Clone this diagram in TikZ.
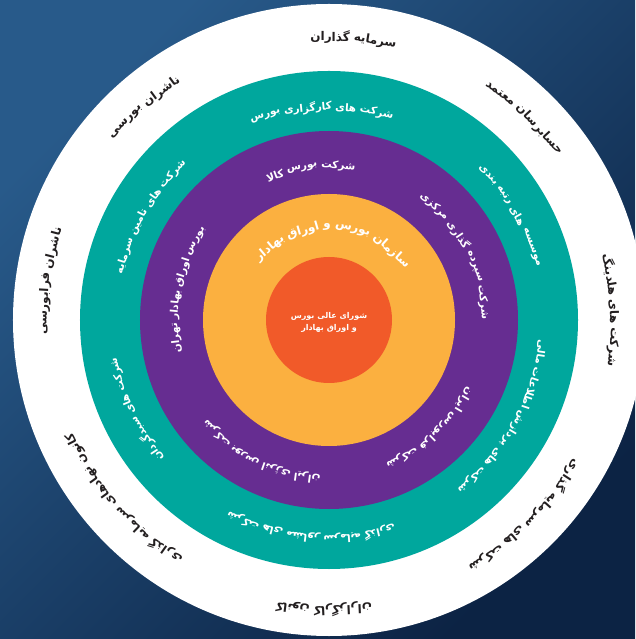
\documentclass[tikz,border=0pt]{standalone}
\usepackage{fontspec}
\newfontfamily\fa[Script=Arabic]{DejaVu Sans}
\TeXXeTstate=1

\definecolor{bgtop}{RGB}{40,90,138}
\definecolor{bgbot}{RGB}{12,35,68}
\definecolor{ringteal}{RGB}{0,167,157}
\definecolor{ringpurple}{RGB}{102,45,145}
\definecolor{ringyellow}{RGB}{251,176,64}
\definecolor{ringorange}{RGB}{241,90,41}
\definecolor{txtdark}{RGB}{35,31,32}

\newcommand{\outerfont}{\fa\bfseries\fontsize{12}{14}\selectfont\color{txtdark}}
\newcommand{\tealfont}{\fa\bfseries\fontsize{10.5}{12}\selectfont\color{white}}
\newcommand{\purplefont}{\fa\bfseries\fontsize{10.5}{12}\selectfont\color{white}}
\newcommand{\yellowfont}{\fa\bfseries\fontsize{12}{14}\selectfont\color{white}}

\newdimen\rtlen
\newdimen\rtpos
\newdimen\rtsp
\newdimen\rtw

% words of one label, set one by one round a circle, tops outward
\newcommand{\ringtext}[5]{%
  \setbox0\hbox{\pgfinterruptpicture#4\ \endpgfinterruptpicture}\global\rtsp=\wd0
  \global\rtlen=-\rtsp
  \foreach \wrd in {#5}{%
    \setbox0\hbox{\pgfinterruptpicture#4\wrd\endpgfinterruptpicture}%
    \global\advance\rtlen by \wd0
    \global\advance\rtlen by \rtsp}
  \global\rtpos=0pt
  \foreach \wrd [count=\i] in {#5}{%
    \setbox0\hbox{\pgfinterruptpicture#4\wrd\endpgfinterruptpicture}\global\rtw=\wd0
    \pgfmathsetmacro{\rtang}{#3-deg(\rtlen/#2)/2+deg((\rtpos+0.5*\rtw)/#2)}
    \node[ringword,rotate=\rtang-90] (#1-\i) at (\rtang:#2) {#4\beginR\wrd\endR};
    \global\advance\rtpos by \rtw
    \global\advance\rtpos by \rtsp}}

\begin{document}
\begin{tikzpicture}[x=1pt,y=1pt,
    ringword/.style={inner sep=0pt,anchor=center},
    councilline/.style={inner sep=0pt,text=white,font=\fa\bfseries\fontsize{8}{10}\selectfont}]

  \useasboundingbox (-329,-319) rectangle (306,320);
  \shade[top color=bgtop,bottom color=bgbot,shading angle=45] (-329,-319) rectangle (306,320);

  % rings
  \fill[white] (0,0) circle (316);
  \fill[ringteal] (0,0) circle (249);
  \fill[ringpurple] (0,0) circle (189);
  \fill[ringyellow] (0,0) circle (126);
  \fill[ringorange] (0,0) circle (63);

  % outer ring
  \ringtext{investors}{283}{85}{\outerfont}{سرمایه,گذاران}
  \ringtext{auditors}{284}{46}{\outerfont}{حسابرسان,معتمد}
  \ringtext{holdings}{285}{2}{\outerfont}{شرکت,های,هلدینگ}
  \ringtext{invcos}{285}{-45}{\outerfont}{شرکت,های,سرمایه,گذاری}
  \ringtext{brokerassoc}{290}{-91}{\outerfont}{کانون,کارگزاران}
  \ringtext{fundassoc}{283}{-139}{\outerfont}{کانون,نهادهای,سرمایه,گذاری}
  \ringtext{ifbissuers}{285}{172}{\outerfont}{ناشران,فرابورسی}
  \ringtext{tseissuers}{283}{131}{\outerfont}{ناشران,بورسی}

  % teal ring
  \ringtext{brokers}{213}{92}{\tealfont}{شرکت,های,کارگزاری,بورس}
  \ringtext{rating}{215}{30}{\tealfont}{موسسه,های,رتبه,بندی}
  \ringtext{dataproc}{214}{-29}{\tealfont}{شرکت,های,پردازش,اطلاعات,مالی}
  \ringtext{advisors}{218}{-95}{\tealfont}{شرکت,های,مشاور,سرمایه,گذاری}
  \ringtext{portfolio}{218}{-155}{\tealfont}{شرکت,های,سبدگردان}
  \ringtext{ibanks}{214}{150}{\tealfont}{شرکت,های,تامین,سرمایه}

  % purple ring
  \ringtext{ime}{154}{97}{\purplefont}{شرکت,بورس,کالا}
  \ringtext{csd}{155}{27}{\purplefont}{شرکت,سپرده,گذاری,مرکزی}
  \ringtext{ifb}{156}{-47}{\purplefont}{شرکت,فرابورس,ایران}
  \ringtext{irenex}{159}{-117}{\purplefont}{شرکت,بورس,انرژی,ایران}
  \ringtext{tse}{154}{168}{\purplefont}{بورس,اوراق,بهادار,تهران}

  % yellow ring
  \ringtext{seo}{93}{87}{\yellowfont}{سازمان,بورس,و,اوراق,بهادار}

  % centre
  \node[councilline] (council-1) at (0,4) {\beginR شورای عالی بورس\endR};
  \node[councilline] (council-2) at (0,-8) {\beginR و اوراق بهادار\endR};
\end{tikzpicture}
\end{document}
